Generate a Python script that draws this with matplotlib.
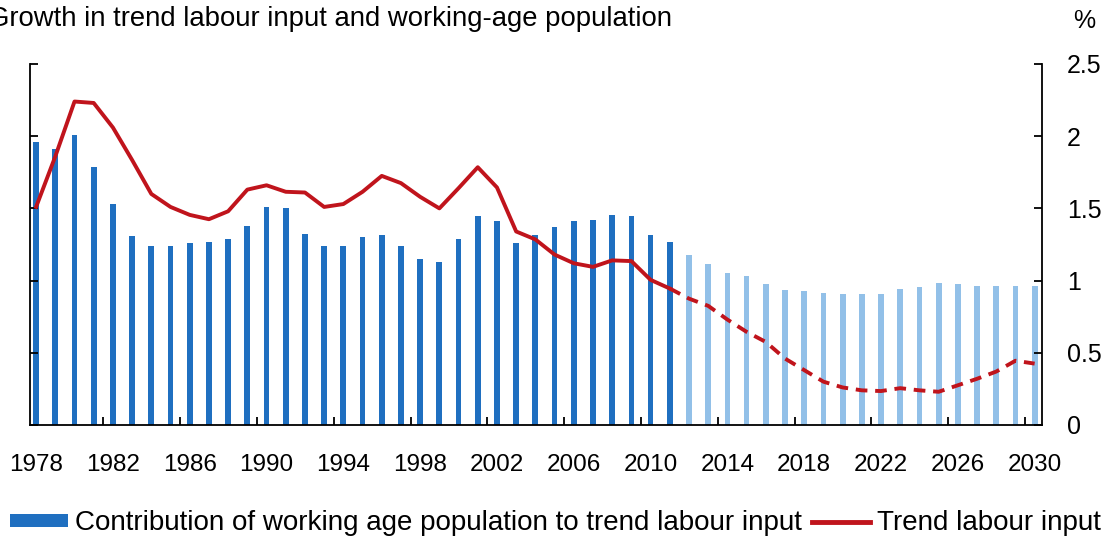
import numpy as np
import matplotlib.pyplot as plt
from matplotlib.patches import Patch
from matplotlib.lines import Line2D

plt.rcParams['font.family'] = ['Liberation Sans', 'DejaVu Sans']

years = list(range(1978, 2031))
last_actual = 2011

# contribution of working age population (bars)
wap_contrib = [1.96, 1.91, 2.01, 1.79, 1.53, 1.31, 1.24, 1.24, 1.26, 1.265,
               1.29, 1.38, 1.51, 1.50, 1.32, 1.24, 1.24, 1.30, 1.315, 1.24,
               1.15, 1.13, 1.29, 1.45, 1.41, 1.26, 1.315, 1.37, 1.415, 1.42,
               1.455, 1.45, 1.315, 1.265, 1.18, 1.115, 1.05, 1.03, 0.975, 0.935,
               0.925, 0.915, 0.905, 0.905, 0.91, 0.945, 0.955, 0.98, 0.975, 0.965,
               0.965, 0.965, 0.965]

# trend labour input (line)
trend_labour = [1.51, 1.86, 2.24, 2.23, 2.06, 1.835, 1.60, 1.51, 1.455, 1.425,
                1.48, 1.63, 1.66, 1.615, 1.61, 1.51, 1.53, 1.615, 1.725, 1.675,
                1.58, 1.50, 1.64, 1.785, 1.645, 1.34, 1.285, 1.18, 1.12, 1.095,
                1.14, 1.135, 1.005, 0.945, 0.875, 0.825, 0.73, 0.645, 0.575, 0.46,
                0.38, 0.30, 0.26, 0.24, 0.235, 0.255, 0.24, 0.23, 0.275, 0.32,
                0.37, 0.445, 0.425]

tick_years = list(range(1978, 2031, 4))

dark_blue = '#1f6fc0'
light_blue = '#92c0e8'
red = '#c0141c'

x = np.array(years)
wap = np.array(wap_contrib)
trend = np.array(trend_labour)
hist = x <= last_actual

fig = plt.figure(figsize=(11.18, 5.45), dpi=100)
ax = fig.add_axes([0.0268, 0.2202, 0.905, 0.6624])

ax.bar(x[hist], wap[hist], width=0.3, color=dark_blue)
ax.bar(x[~hist], wap[~hist], width=0.3, color=light_blue)

ax.plot(x[hist], trend[hist], color=red, lw=2.8)
ax.plot(x[x >= last_actual], trend[x >= last_actual], color=red, lw=2.8,
        dashes=(3, 2))

ax.set_xlim(1977.68, 2030.37)
ax.set_ylim(0, 2.5)

ax.spines['top'].set_visible(False)
for s in ['left', 'right', 'bottom']:
    ax.spines[s].set_linewidth(1.3)

ax.set_xticks(tick_years)
ax.set_xticklabels([str(y) for y in tick_years], fontsize=17.5)
ax.set_xticks([y + 3.5 for y in tick_years[:-1]], minor=True)
ax.tick_params(axis='x', which='major', length=0, pad=21)
ax.tick_params(axis='x', which='minor', direction='in', length=6, width=1.3)

ax.yaxis.tick_right()
ax.set_yticks([0, 0.5, 1, 1.5, 2, 2.5])
ax.set_yticklabels(['0', '0.5', '1', '1.5', '2', '2.5'], fontsize=18)
ax.tick_params(axis='y', which='both', direction='in', length=6, width=1.3,
               left=True, right=True, pad=18)

fig.text(-0.011, 0.965, 'Growth in trend labour input and working-age population',
         fontsize=19.8, ha='left', va='center')
fig.text(0.97, 0.962, '%', fontsize=18, ha='center', va='center')

handles = [Patch(facecolor=dark_blue, edgecolor='none'),
           Line2D([0], [0], color=red, lw=3.5)]
labels = ['Contribution of working age population to trend labour input',
          'Trend labour input']
fig.legend(handles, labels, loc='center left', bbox_to_anchor=(0.009, 0.04),
           ncol=2, frameon=False, fontsize=20, handlelength=2.1,
           handleheight=0.35, handletextpad=0.25, columnspacing=0.35,
           borderaxespad=0, borderpad=0)

fig.savefig('out.png', dpi=100)
